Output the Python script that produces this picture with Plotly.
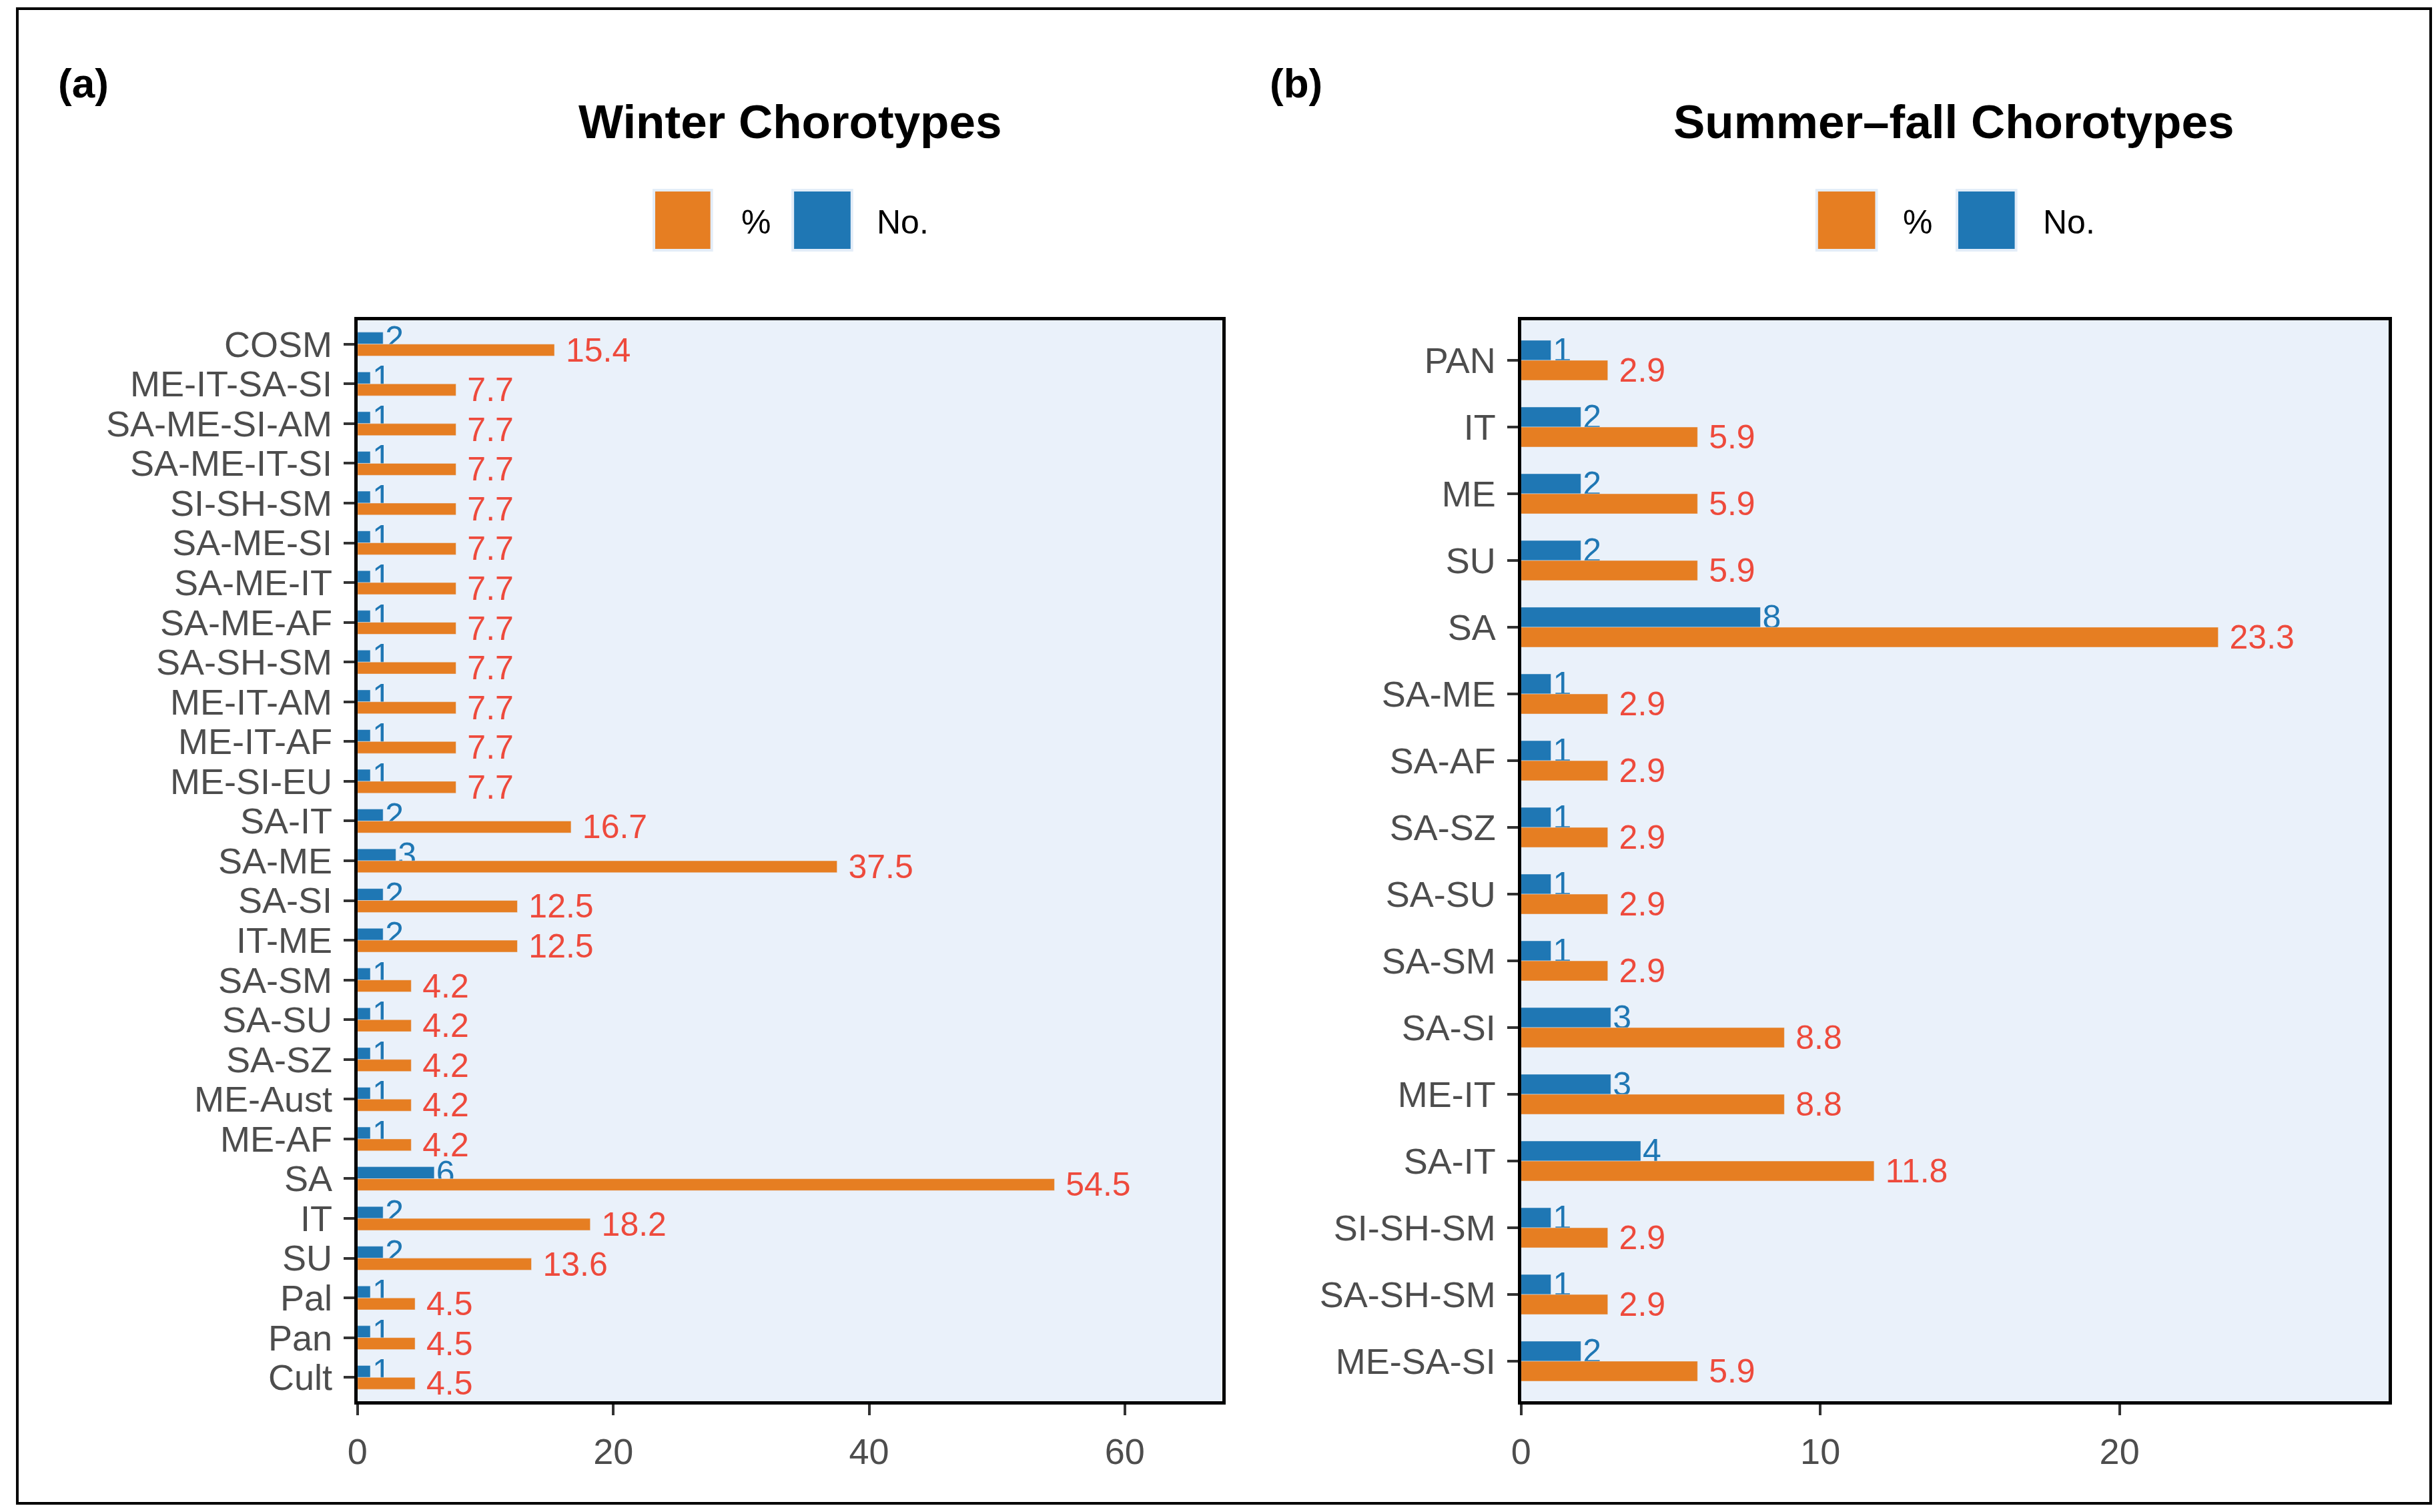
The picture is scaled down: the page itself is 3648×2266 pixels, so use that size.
import plotly.graph_objects as go

# ---------------- data ----------------
win_cats = ["COSM", "ME-IT-SA-SI", "SA-ME-SI-AM", "SA-ME-IT-SI", "SI-SH-SM", "SA-ME-SI",
            "SA-ME-IT", "SA-ME-AF", "SA-SH-SM", "ME-IT-AM", "ME-IT-AF", "ME-SI-EU",
            "SA-IT", "SA-ME", "SA-SI", "IT-ME", "SA-SM", "SA-SU", "SA-SZ", "ME-Aust",
            "ME-AF", "SA", "IT", "SU", "Pal", "Pan", "Cult"]
win_no = [2, 1, 1, 1, 1, 1, 1, 1, 1, 1, 1, 1, 2, 3, 2, 2, 1, 1, 1, 1, 1, 6, 2, 2, 1, 1, 1]
win_pct = [15.4, 7.7, 7.7, 7.7, 7.7, 7.7, 7.7, 7.7, 7.7, 7.7, 7.7, 7.7,
           16.7, 37.5, 12.5, 12.5, 4.2, 4.2, 4.2, 4.2, 4.2, 54.5, 18.2, 13.6, 4.5, 4.5, 4.5]

sum_cats = ["PAN", "IT", "ME", "SU", "SA", "SA-ME", "SA-AF", "SA-SZ", "SA-SU", "SA-SM",
            "SA-SI", "ME-IT", "SA-IT", "SI-SH-SM", "SA-SH-SM", "ME-SA-SI"]
sum_no = [1, 2, 2, 2, 8, 1, 1, 1, 1, 1, 3, 3, 4, 1, 1, 2]
sum_pct = [2.9, 5.9, 5.9, 5.9, 23.3, 2.9, 2.9, 2.9, 2.9, 2.9, 8.8, 8.8, 11.8, 2.9, 2.9, 5.9]

win_xticks = [0, 20, 40, 60]
sum_xticks = [0, 10, 20]

# ---------------- style ----------------
W, H = 3648, 2266
FONT = "Liberation Sans, Arial, Helvetica, sans-serif"
ORANGE = "#E67E22"
BLUE = "#1F77B4"
RED_TXT = "#EE4A3C"
BLUE_TXT = "#1F77B4"
PANEL_BG = "#EAF1FA"
TICK_TXT = "#4D4D4D"


def X(px):
    return px / W


def Y(py):
    return 1 - py / H


fig = go.Figure()


def add_panel(cats, nos, pcts, xa, ya):
    fig.add_trace(go.Bar(
        y=cats, x=nos, orientation="h", name="No.", marker_color=BLUE,
        text=[f"{v:g}" for v in nos], textposition="outside",
        textfont=dict(family=FONT, size=50, color=BLUE_TXT),
        constraintext="none", cliponaxis=False, showlegend=False,
        xaxis=xa, yaxis=ya))
    fig.add_trace(go.Bar(
        y=cats, x=pcts, orientation="h", name="%", marker_color=ORANGE,
        text=["\u00a0" + f"{v:g}" for v in pcts], textposition="outside",
        textfont=dict(family=FONT, size=50, color=RED_TXT),
        constraintext="none", cliponaxis=False, showlegend=False,
        xaxis=xa, yaxis=ya))


add_panel(win_cats, win_no, win_pct, "x", "y")
add_panel(sum_cats, sum_no, sum_pct, "x2", "y2")

axis_common = dict(
    showline=True, linecolor="black", linewidth=5, mirror=True,
    ticks="outside", ticklen=16, tickwidth=4, tickcolor="#333333",
    tickfont=dict(family=FONT, size=54, color=TICK_TXT),
    showgrid=False, zeroline=False,
)

ydom = [Y(2100), Y(480)]

fig.update_layout(
    width=W, height=H,
    margin=dict(l=0, r=0, t=0, b=0),
    paper_bgcolor="white", plot_bgcolor=PANEL_BG,
    barmode="group", bargap=0.4, bargroupgap=0,
    showlegend=False,
    xaxis=dict(domain=[X(523), X(1824)], range=[0, 67.6], tickmode="array",
               tickvals=win_xticks, anchor="y", ticklabelstandoff=8, **axis_common),
    yaxis=dict(domain=ydom, type="category", categoryorder="array",
               categoryarray=win_cats, tickmode="array", tickvals=win_cats,
               range=[len(win_cats) - 0.4, -0.6],
               anchor="x", ticklabelstandoff=6, **axis_common),
    xaxis2=dict(domain=[X(2274), X(3580)], range=[0, 29.0], tickmode="array",
                tickvals=sum_xticks, anchor="y2", ticklabelstandoff=8, **axis_common),
    yaxis2=dict(domain=ydom, type="category", categoryorder="array",
                categoryarray=sum_cats, tickmode="array", tickvals=sum_cats,
                range=[len(sum_cats) - 0.4, -0.6],
                anchor="x2", ticklabelstandoff=6, **axis_common),
)

shapes = []
annotations = []

# outer frame
shapes.append(dict(type="rect", xref="paper", yref="paper",
                   x0=X(11), x1=X(3643), y0=Y(2253), y1=Y(13),
                   line=dict(color="black", width=4), fillcolor="rgba(0,0,0,0)"))

panels = [
    dict(tag="(a)", tag_x=70, title="Winter Chorotypes", cx=1174,
         leg=[(969, 1056, ORANGE, "%", 1099), (1178, 1267, BLUE, "No.", 1302)]),
    dict(tag="(b)", tag_x=1894, title="Summer\u2013fall Chorotypes", cx=2925,
         leg=[(2719, 2809, ORANGE, "%", 2847), (2930, 3019, BLUE, "No.", 3058)]),
]

for p in panels:
    annotations.append(dict(text="<b>" + p["tag"] + "</b>", xref="paper", yref="paper",
                            x=X(p["tag_x"]), y=Y(125), xanchor="left", yanchor="middle",
                            showarrow=False, font=dict(family=FONT, size=62, color="black")))
    annotations.append(dict(text="<b>" + p["title"] + "</b>", xref="paper", yref="paper",
                            x=X(p["cx"]), y=Y(182), xanchor="center", yanchor="middle",
                            showarrow=False, font=dict(family=FONT, size=71, color="black")))
    for (x0, x1, col, lab, tx) in p["leg"]:
        shapes.append(dict(type="rect", xref="paper", yref="paper",
                           x0=X(x0), x1=X(x1), y0=Y(375), y1=Y(285),
                           fillcolor=col, line=dict(color="#E3EDF8", width=4)))
        annotations.append(dict(text=lab, xref="paper", yref="paper",
                                x=X(tx), y=Y(333), xanchor="left", yanchor="middle",
                                showarrow=False, font=dict(family=FONT, size=50, color="black")))

fig.update_layout(shapes=shapes, annotations=annotations)

fig.write_html("out.html", config={"displayModeBar": False},
               post_script="document.body.style.margin='0';")
